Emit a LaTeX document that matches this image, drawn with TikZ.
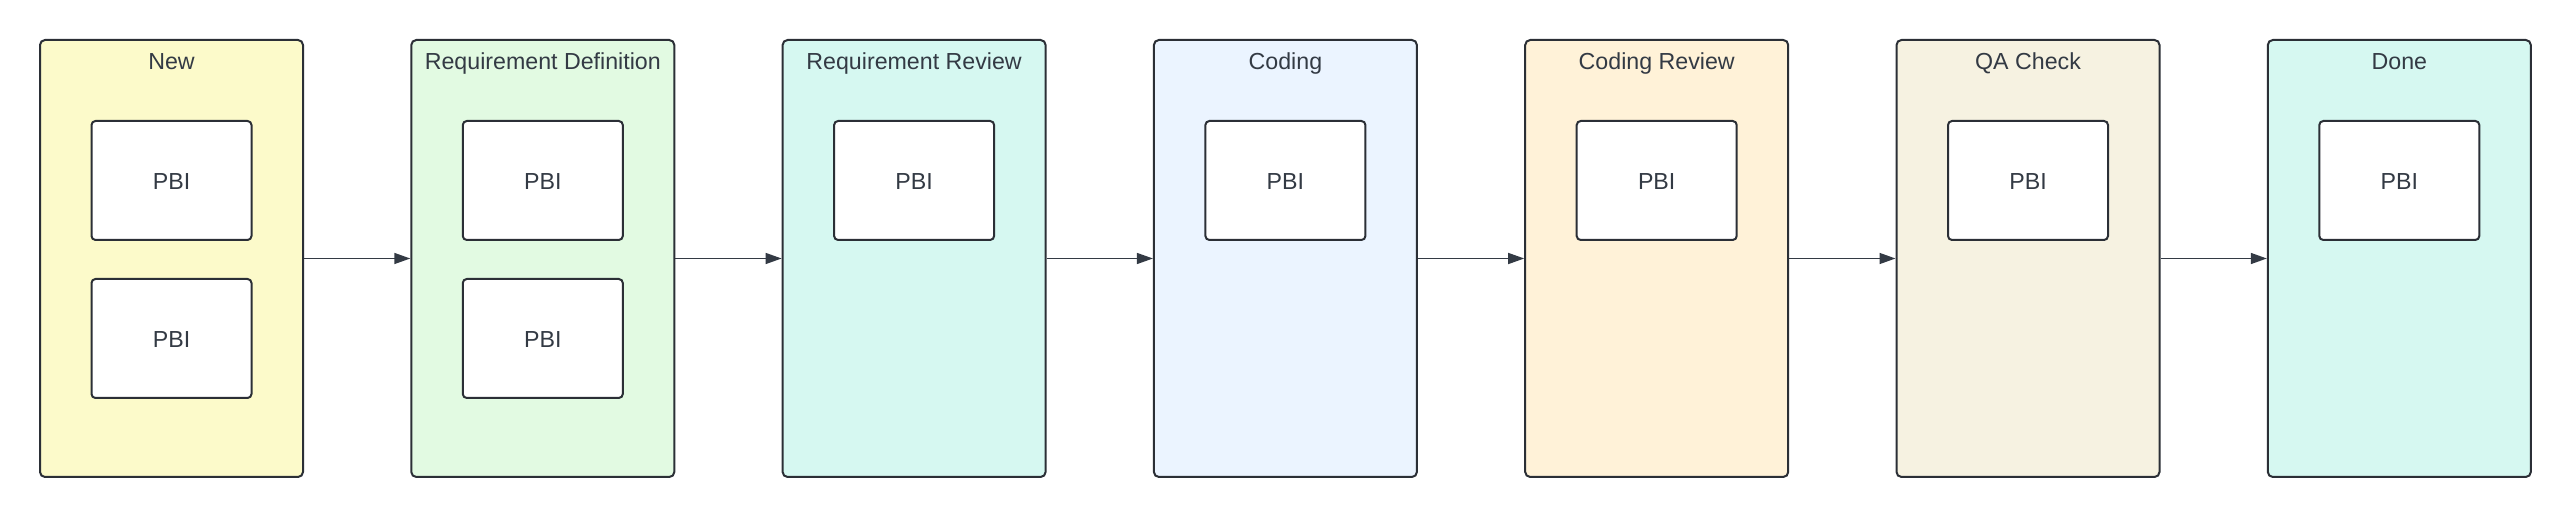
\documentclass[tikz,border=0pt]{standalone}
\usepackage{fontspec}
\setmainfont{Liberation Sans}
\usetikzlibrary{arrows.meta}
\definecolor{inkc}{HTML}{2B2F36}
\definecolor{textc}{HTML}{333A44}
\definecolor{newc}{HTML}{FCFACA}
\definecolor{defc}{HTML}{E2FAE2}
\definecolor{revc}{HTML}{D6F8F1}
\definecolor{codec}{HTML}{EBF4FF}
\definecolor{crevc}{HTML}{FFF2D8}
\definecolor{qac}{HTML}{F6F2E1}
\begin{document}
\begin{tikzpicture}[x=0.5pt, y=-0.5pt]
      \tikzstyle{lane}=[draw=inkc, line width=1pt, rounded corners=2.5pt,
                        minimum width=131.5pt, minimum height=218.5pt, inner sep=0pt]
      \tikzstyle{pbi}=[draw=inkc, fill=white, line width=1pt, rounded corners=2pt,
                       minimum width=80pt, minimum height=59.5pt, inner sep=0pt,
                       text height=9pt, text depth=0pt,
                       text=textc, font=\fontsize{11.6}{13}\selectfont]
      \tikzstyle{title}=[anchor=base, text=textc, font=\fontsize{11.6}{13}\selectfont,
                         inner sep=0pt]
      \tikzstyle{arrow}=[draw=textc, line width=0.7pt,
                         -{Triangle[length=8pt, width=5.5pt]}]
      \useasboundingbox (0, 0) rectangle (2569, 517);
      % lanes
      \node[lane, fill=newc]  (new)   at (171.5, 258.5)  {};
      \node[lane, fill=defc]  (def)   at (542.8, 258.5)  {};
      \node[lane, fill=revc]  (rev)   at (914.1, 258.5)  {};
      \node[lane, fill=codec] (code)  at (1285.4, 258.5) {};
      \node[lane, fill=crevc] (crev)  at (1656.7, 258.5) {};
      \node[lane, fill=qac]   (qa)    at (2028.0, 258.5) {};
      \node[lane, fill=revc]  (done)  at (2399.3, 258.5) {};
      % titles
      \node[title] (newT)  at (171.5, 70)  {New};
      \node[title] (defT)  at (542.8, 70)  {Requirement Definition};
      \node[title] (revT)  at (914.1, 70)  {Requirement Review};
      \node[title] (codeT) at (1285.4, 70) {Coding};
      \node[title] (crevT) at (1656.7, 70) {Coding Review};
      \node[title] (qaT)   at (2028.0, 70) {QA Check};
      \node[title] (doneT) at (2399.3, 70) {Done};
      % items
      \node[pbi] (new1)  at (171.5, 180.5)  {PBI};
      \node[pbi] (new2)  at (171.5, 338.5)  {PBI};
      \node[pbi] (def1)  at (542.8, 180.5)  {PBI};
      \node[pbi] (def2)  at (542.8, 338.5)  {PBI};
      \node[pbi] (rev1)  at (914.1, 180.5)  {PBI};
      \node[pbi] (code1) at (1285.4, 180.5) {PBI};
      \node[pbi] (crev1) at (1656.7, 180.5) {PBI};
      \node[pbi] (qa1)   at (2028.0, 180.5) {PBI};
      \node[pbi] (done1) at (2399.3, 180.5) {PBI};
      % flow
      \draw[arrow] (new) -- (def);
      \draw[arrow] (def) -- (rev);
      \draw[arrow] (rev) -- (code);
      \draw[arrow] (code) -- (crev);
      \draw[arrow] (crev) -- (qa);
      \draw[arrow] (qa) -- (done);
    \end{tikzpicture}
\end{document}
